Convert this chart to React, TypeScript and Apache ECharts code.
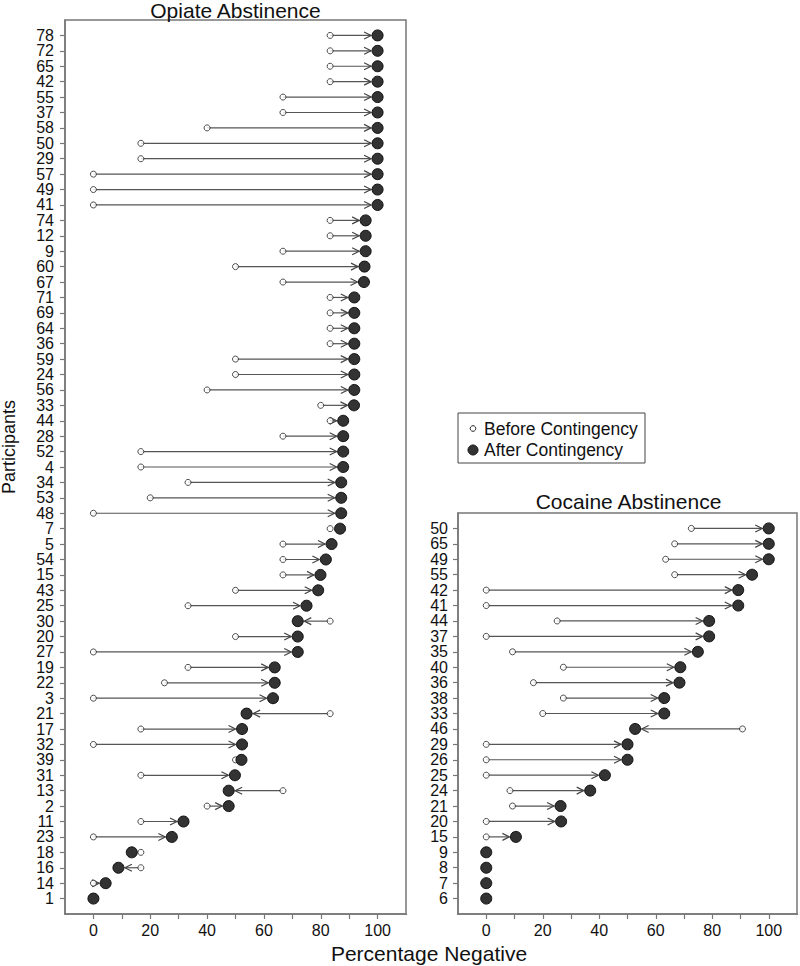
import React, { useEffect, useRef } from "react";
import * as echarts from "echarts";

const opiateLabels = ["78","72","65","42","55","37","58","50","29","57","49","41","74","12","9","60","67","71","69","64","36","59","24","56","33","44","28","52","4","34","53","48","7","5","54","15","43","25","30","20","27","19","22","3","21","17","32","39","31","13","2","11","23","18","16","14","1"];
const opiateBefore = [83.3,83.3,83.3,83.3,66.7,66.7,40,16.7,16.7,0,0,0,83.3,83.3,66.7,50,66.7,83.3,83.3,83.3,83.3,50,50,40,80,83.3,66.7,16.7,16.7,33.3,20,0,83.3,66.7,66.7,66.7,50,33.3,83.3,50,0,33.3,25,0,83.3,16.7,0,50,16.7,66.7,40,16.7,0,16.7,16.7,0,0];
const opiateAfter = [100,100,100,100,100,100,100,100,100,100,100,100,95.8,95.8,95.8,95.4,95.2,91.8,91.8,91.8,91.8,91.8,91.8,91.8,91.7,87.9,87.9,87.9,87.9,87.2,87.2,87.2,86.8,83.8,81.8,79.9,79.1,75,71.9,71.9,71.9,63.8,63.8,63.2,53.9,52.3,52.3,52.1,49.8,47.6,47.6,31.7,27.6,13.5,8.8,4.3,0];

const cocaineLabels = ["50","65","49","55","42","41","44","37","35","40","36","38","33","46","29","26","25","24","21","20","15","9","8","7","6"];
const cocaineBefore = [72.6,66.7,63.5,66.7,0,0,25.1,0,9.3,27.3,16.7,27.3,20,90.7,0,0,0,8.4,9.3,0,0,0,0,0,0];
const cocaineAfter = [100,100,100,94.1,89.2,89.2,78.9,78.9,74.9,68.7,68.4,63,63,52.7,50,50,42,36.8,26.3,26.5,10.5,0,0,0,0];

const xTicks = [0, 20, 40, 60, 80, 100];

const FONT = "'Liberation Sans', Arial, Helvetica, sans-serif";
const FRAME = "#777";

const GRIDS = [
  { left: 65, top: 20, width: 341, height: 894 },
  { left: 458, top: 513, width: 341, height: 401 },
];

function renderArrow(params: any, api: any) {
  const b = api.value(0);
  const a = api.value(1);
  const r = api.value(2);
  const p0 = api.coord([b, r]);
  const p1 = api.coord([a, r]);
  const d = p1[0] - p0[0];
  if (Math.abs(d) < 10) return { type: "group", children: [] };
  const dir = d > 0 ? 1 : -1;
  const tipX = p1[0] - dir * 6.5;
  const y = p0[1];
  return {
    type: "group",
    children: [
      { type: "line", shape: { x1: p0[0], y1: y, x2: tipX, y2: y }, style: { stroke: "#555", lineWidth: 1.2 } },
      {
        type: "polyline",
        shape: { points: [[tipX - dir * 7, y - 3.5], [tipX, y], [tipX - dir * 7, y + 3.5]] },
        style: { stroke: "#444", lineWidth: 1.2, fill: null },
      },
    ],
  };
}

function xAxisCfg(gridIndex: number) {
  return {
    type: "value",
    gridIndex,
    min: -10,
    max: 110,
    interval: 10,
    axisLine: { show: true, onZero: false, lineStyle: { color: FRAME, width: 1.5 } },
    axisTick: { show: true, length: 5, lineStyle: { color: FRAME, width: 1.2 } },
    splitLine: { show: false },
    axisLabel: {
      margin: 8,
      fontSize: 16,
      color: "#111",
      fontFamily: FONT,
      formatter: (v: number) => (xTicks.indexOf(v) >= 0 ? String(v) : ""),
    },
  };
}

function yAxisCfg(gridIndex: number, labels: string[], margin: number) {
  return {
    type: "category",
    gridIndex,
    inverse: true,
    boundaryGap: false,
    data: ["", ...labels, ""],
    axisLine: { show: true, onZero: false, lineStyle: { color: FRAME, width: 1.5 } },
    axisTick: {
      show: true,
      length: 5,
      interval: (_i: number, v: string) => v !== "",
      lineStyle: { color: FRAME, width: 1.2 },
    },
    splitLine: { show: false },
    axisLabel: {
      interval: 0,
      margin,
      fontSize: 16,
      color: "#111",
      fontFamily: FONT,
    },
  };
}

function panelSeries(before: number[], after: number[], idx: number) {
  const rows = before.map((b, i) => [b, after[i], i + 1]);
  return [
    {
      type: "custom",
      xAxisIndex: idx,
      yAxisIndex: idx,
      renderItem: renderArrow,
      data: rows,
      encode: { x: [0, 1], y: 2 },
      z: 2,
    },
    {
      type: "scatter",
      name: "Before Contingency",
      xAxisIndex: idx,
      yAxisIndex: idx,
      symbol: "circle",
      symbolSize: 6,
      itemStyle: { color: "#fff", borderColor: "#222", borderWidth: 1 },
      data: before.map((b, i) => [b, i + 1]),
      z: 3,
    },
    {
      type: "scatter",
      name: "After Contingency",
      xAxisIndex: idx,
      yAxisIndex: idx,
      symbol: "circle",
      symbolSize: 11,
      itemStyle: { color: "#333", borderColor: "#111", borderWidth: 1, opacity: 1 },
      data: after.map((a, i) => [a, i + 1]),
      z: 4,
    },
  ];
}

export default function App() {
  const ref = useRef<HTMLDivElement>(null);
  useEffect(() => {
    document.body.style.margin = "0";
    if (!ref.current) return;
    const chart = echarts.init(ref.current, null, { renderer: "svg" });
    // white masks over the end-of-range ticks at the bottom corners
    const masks: any[] = [];
    GRIDS.forEach((g) => {
      [g.left, g.left + g.width].forEach((x) => {
        masks.push({ type: "rect", z: 100, shape: { x: x - 2, y: g.top + g.height + 1, width: 4, height: 7 }, style: { fill: "#fff" } });
      });
    });
    chart.setOption({
      animation: false,
      backgroundColor: "#fff",
      grid: GRIDS.map((g) => ({ ...g, show: true, borderColor: FRAME, borderWidth: 1.5, containLabel: false })),
      xAxis: [xAxisCfg(0), xAxisCfg(1)],
      yAxis: [yAxisCfg(0, opiateLabels, 11), yAxisCfg(1, cocaineLabels, 10)],
      series: [...panelSeries(opiateBefore, opiateAfter, 0), ...panelSeries(cocaineBefore, cocaineAfter, 1)],
      graphic: [
        ...masks,
        { type: "text", x: 235.5, y: 10, style: { text: "Opiate Abstinence", align: "center", verticalAlign: "middle", font: `21px ${FONT}`, fill: "#111" } },
        { type: "text", x: 628.5, y: 501, style: { text: "Cocaine Abstinence", align: "center", verticalAlign: "middle", font: `21px ${FONT}`, fill: "#111" } },
        { type: "text", x: 429, y: 953, style: { text: "Percentage Negative", align: "center", verticalAlign: "middle", font: `21px ${FONT}`, fill: "#111" } },
        { type: "text", x: 9, y: 447, rotation: Math.PI / 2, style: { text: "Participants", align: "center", verticalAlign: "middle", font: `18px ${FONT}`, fill: "#111" } },
        { type: "rect", shape: { x: 458, y: 413, width: 187, height: 50 }, style: { fill: "#fff", stroke: "#444", lineWidth: 1 } },
        { type: "circle", shape: { cx: 473, cy: 428.5, r: 2.8 }, style: { fill: "#fff", stroke: "#222", lineWidth: 1 } },
        { type: "circle", shape: { cx: 473, cy: 450, r: 5 }, style: { fill: "#333", stroke: "#111", lineWidth: 1 } },
        { type: "text", x: 484, y: 428.5, style: { text: "Before Contingency", align: "left", verticalAlign: "middle", font: `17.5px ${FONT}`, fill: "#111" } },
        { type: "text", x: 484, y: 450, style: { text: "After Contingency", align: "left", verticalAlign: "middle", font: `17.5px ${FONT}`, fill: "#111" } },
      ],
    });
    return () => chart.dispose();
  }, []);
  return <div ref={ref} style={{ width: 800, height: 966 }} />;
}
